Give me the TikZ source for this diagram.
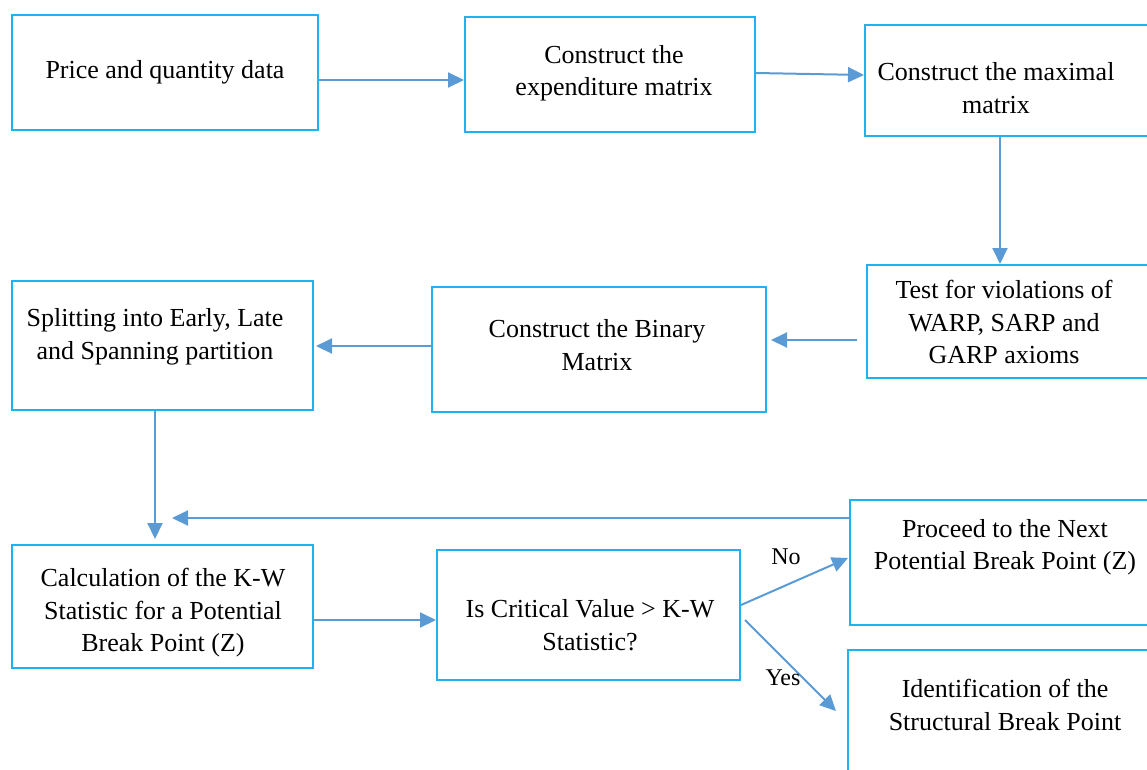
\documentclass[tikz,border=0pt]{standalone}
\usepackage{fontspec}
\setmainfont{Liberation Serif}
\usetikzlibrary{arrows.meta}
\definecolor{boxcol}{RGB}{30,178,240}
\definecolor{arrcol}{RGB}{91,155,213}
\tikzset{
  box/.style={draw=boxcol, line width=2pt, rectangle, inner sep=0pt},
  txt/.style={align=center, font=\fontsize{26}{32.5}\selectfont, inner sep=0pt},
  lbl/.style={font=\fontsize{24}{28}\selectfont, inner sep=0pt},
  arr/.style={draw=arrcol, line width=2pt, -{Triangle[length=16pt,width=15pt]}},
}
\begin{document}
\begin{tikzpicture}[x=1pt,y=-1pt]
\useasboundingbox (0,0) rectangle (1147,769);
\clip (0,0) rectangle (1147,769);
% boxes
\node[box, minimum width=306pt, minimum height=115pt] (b1) at (165,72.5) {};
\node[box, minimum width=290pt, minimum height=115pt] (b2) at (610,74.5) {};
\node[box, minimum width=300pt, minimum height=111pt] (b3) at (1015,80.5) {};
\node[box, minimum width=300pt, minimum height=113pt] (b4) at (1017,321.5) {};
\node[box, minimum width=334pt, minimum height=125pt] (b5) at (599,349.5) {};
\node[box, minimum width=301pt, minimum height=129pt] (b6) at (162.5,345.5) {};
\node[box, minimum width=301pt, minimum height=123pt] (b7) at (162.5,606.5) {};
\node[box, minimum width=303pt, minimum height=130pt] (b8) at (588.5,615) {};
\node[box, minimum width=300pt, minimum height=125pt] (b9) at (1000,562.5) {};
\node[box, minimum width=300pt, minimum height=140pt] (b10) at (998,720) {};
% texts
\node[txt] (t1) at (165,72) {Price and quantity data};
\node[txt] (t2) at (614,73) {Construct the\\expenditure matrix};
\node[txt] (t3) at (996,88) {Construct the maximal\\matrix};
\node[txt] (t4) at (1004,322) {Test for violations of\\WARP, SARP and\\GARP axioms};
\node[txt] (t5) at (597,345) {Construct the Binary\\Matrix};
\node[txt] (t6) at (155,337) {Splitting into Early, Late\\and Spanning partition};
\node[txt] (t7) at (163,613) {Calculation of the K-W\\Statistic for a Potential\\Break Point (Z)};
\node[txt] (t8) at (590,625) {Is Critical Value > K-W\\Statistic?};
\node[txt] (t9) at (1005,547) {Proceed to the Next\\Potential Break Point (Z)};
\node[txt] (t10) at (1005,705) {Identification of the\\Structural Break Point};
% coordinates
\coordinate (fb) at (172,518);
\coordinate (noS) at (741,605);
\coordinate (noE) at (848,558);
\coordinate (yesS) at (745,620);
\coordinate (yesE) at (836,711);
% connectors
\draw[arr] (b1.east |- 0,80) -- (b2.west |- 0,80);
\draw[arr] (b2.east |- 0,73) -- (b3.west |- 0,75);
\draw[arr] (b3.south -| 1000,0) -- (b4.north -| 1000,0);
\draw[arr] ([xshift=-9pt]b4.west |- 0,340) -- ([xshift=4pt]b5.east |- 0,340);
\draw[arr] (b5.west |- 0,346) -- ([xshift=2pt]b6.east |- 0,346);
\draw[arr] (b6.south -| 155,0) -- ([yshift=5pt]b7.north -| 155,0);
\draw[arr] (b7.east |- 0,620) -- (b8.west |- 0,620);
\draw[arr] (b9.west |- 0,518) -- (fb);
\draw[arr] (noS) -- (noE);
\draw[arr] (yesS) -- (yesE);
% labels
\node[lbl] (no) at (786,557) {No};
\node[lbl] (yes) at (783,678) {Yes};
\end{tikzpicture}
\end{document}
